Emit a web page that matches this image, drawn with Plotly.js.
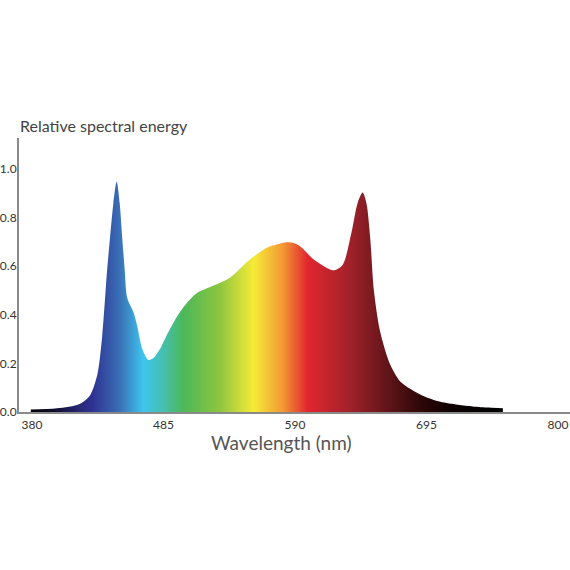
<!DOCTYPE html>
<html>
<head>
<meta charset="utf-8">
<script src="https://cdn.plot.ly/plotly-3.0.1.min.js"></script>
<style>
  html, body { margin: 0; padding: 0; background: #fff; }
  #chart { width: 570px; height: 570px; }
</style>
</head>
<body>
<div id="chart"></div>
<script>
// spectrum (nm, relative energy)
const wavelength = [
    379, 400, 418, 426, 432, 436, 440, 442, 445, 447.6, 450, 452, 454, 456,
    461, 464, 468, 473, 477, 482, 487, 493, 498, 504, 512, 525, 538, 554,
    567, 576, 583, 588, 594, 605, 613, 621, 628, 635, 640, 644, 647, 650,
    653, 658, 666, 674, 679, 692, 706, 720, 732, 745, 756
];
const energy = [
    0.01, 0.015, 0.033, 0.066, 0.15, 0.31, 0.586, 0.70, 0.86, 0.948, 0.86, 0.72, 0.586, 0.47,
    0.41, 0.354, 0.26, 0.214, 0.222, 0.258, 0.31, 0.368, 0.41, 0.45, 0.49, 0.52, 0.552, 0.627,
    0.675, 0.69, 0.698, 0.696, 0.682, 0.627, 0.60, 0.583, 0.605, 0.736, 0.86, 0.903, 0.86, 0.72,
    0.50, 0.33, 0.195, 0.125, 0.105, 0.067, 0.042, 0.03, 0.023, 0.018, 0.015
];

const xTicks = [380, 485, 590, 695, 800];
const yTicks = [0, 0.2, 0.4, 0.6, 0.8, 1.0];
const yTickText = ["0.0", "0.2", "0.4", "0.6", "0.8", "1.0"];

// spectral colours along the wavelength axis
const GRAD_NM = [378, 398, 420, 428, 450, 469, 485, 501, 530, 557, 580, 600, 632, 666, 692, 718, 760];
const GRAD_COLORS = [
    "#000000", "#100d2e", "#2a2a7c", "#2e3192", "#3a6fb6", "#3ec6ee", "#45bfae",
    "#4cb858", "#8dc63f", "#f6eb37", "#f39a34", "#e1262f", "#a5222b", "#5c1418",
    "#2b0607", "#0a0000", "#000000"
];

const FONT = "Lato, 'Open Sans', sans-serif";
const AXIS_GRAY = "#8a8a8a";

const g0 = GRAD_NM[0];
const g1 = GRAD_NM[GRAD_NM.length - 1];
const colorscale = GRAD_NM.map((nm, i) => [(nm - g0) / (g1 - g0), GRAD_COLORS[i]]);

const trace = {
    x: wavelength,
    y: energy,
    type: "scatter",
    mode: "lines",
    line: { width: 0, shape: "spline", smoothing: 0.8, color: "rgba(0,0,0,0)" },
    fill: "tozeroy",
    fillgradient: { type: "horizontal", colorscale: colorscale, start: g0, stop: g1 },
    hoverinfo: "skip"
};

const layout = {
    width: 570,
    height: 570,
    paper_bgcolor: "#ffffff",
    plot_bgcolor: "#ffffff",
    margin: { l: 19, r: 0, t: 138, b: 158 },
    showlegend: false,
    xaxis: {
        range: [369.6, 809.6],
        tickvals: xTicks,
        ticktext: xTicks.map(String),
        showgrid: false,
        zeroline: false,
        showline: true,
        linecolor: AXIS_GRAY,
        linewidth: 1.5,
        ticks: "",
        ticklabelstandoff: 1,
        tickfont: { family: FONT, size: 12, color: "#333" },
        fixedrange: true
    },
    yaxis: {
        range: [0, 1.127],
        tickvals: yTicks,
        ticktext: yTickText,
        showgrid: false,
        zeroline: false,
        showline: true,
        linecolor: AXIS_GRAY,
        linewidth: 2,
        ticks: "",
        ticklabelstandoff: -2,
        tickfont: { family: FONT, size: 12, color: "#333" },
        fixedrange: true
    },
    annotations: [
        {
            text: "Relative spectral energy",
            xref: "paper", yref: "paper",
            x: -0.002, y: 1.044,
            xanchor: "left", yanchor: "middle",
            showarrow: false,
            font: { family: FONT, size: 16, color: "#444" }
        },
        {
            text: "Wavelength (nm)",
            xref: "paper", yref: "paper",
            x: 0.477, y: -0.11,
            xanchor: "center", yanchor: "middle",
            showarrow: false,
            font: { family: FONT, size: 19, color: "#555" }
        }
    ]
};

Plotly.newPlot("chart", [trace], layout, { displayModeBar: false, staticPlot: true });
</script>
</body>
</html>
